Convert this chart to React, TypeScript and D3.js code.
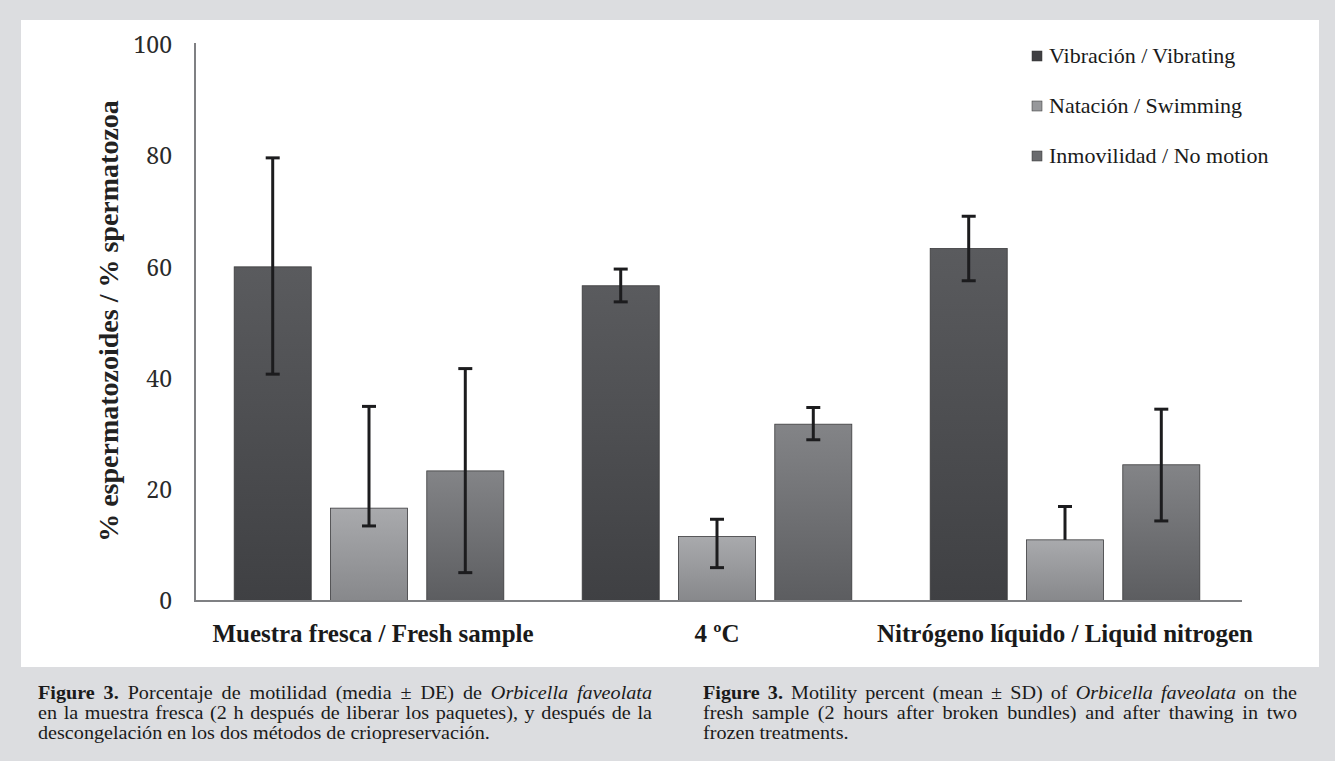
import React, { useLayoutEffect, useRef } from "react";
import * as d3 from "d3";

const categories = ["Muestra fresca / Fresh sample", "4 ºC", "Nitrógeno líquido / Liquid nitrogen"];
const seriesNames = ["Vibración / Vibrating", "Natación / Swimming", "Inmovilidad / No motion"];
const vibracion = [60.1, 56.7, 63.4];
const natacion = [16.7, 11.6, 11.0];
const inmovilidad = [23.4, 31.8, 24.5];
const vibracionLow = [40.8, 53.8, 57.6];
const vibracionHigh = [79.7, 59.7, 69.2];
const natacionLow: (number | null)[] = [13.5, 6.0, null];
const natacionHigh = [35.0, 14.7, 17.0];
const inmovilidadLow = [5.1, 29.0, 14.4];
const inmovilidadHigh = [41.8, 34.8, 34.5];
const yTicks = [0, 20, 40, 60, 80, 100];
const yTitle = "% espermatozoides / % spermatozoa";

const seriesValues = [vibracion, natacion, inmovilidad];
const seriesLow = [vibracionLow, natacionLow, inmovilidadLow];
const seriesHigh = [vibracionHigh, natacionHigh, inmovilidadHigh];
const gradStops = [
  ["#5a5b5e", "#3f4043"],
  ["#a9aaad", "#87888b"],
  ["#838487", "#5c5d60"],
];
const legendColors = ["#404043", "#97989b", "#6a6b6e"];

export default function App() {
  const W = 1335, H = 761;
  const x0 = d3.scaleBand<string>().domain(categories).range([195, 1239]).padding(0);
  const x1 = d3
    .scaleBand<string>()
    .domain(seriesNames)
    .range([0, x0.bandwidth()])
    .paddingInner(0.2)
    .paddingOuter(0.407);
  const y = d3.scaleLinear().domain([0, 100]).range([601, 45]);
  const serif = "'Liberation Serif', 'Times New Roman', serif";
  const capW = 14;

  const SX = 1.12;
  const capRefs = useRef<(SVGTextElement | null)[]>([]);
  const targets = [614, 614, 0, 594, 594, 0];
  useLayoutEffect(() => {
    capRefs.current.forEach((el, i) => {
      if (!el || !targets[i]) return;
      el.setAttribute("word-spacing", "0");
      const w = el.getComputedTextLength();
      const spaces = ((el.textContent || "").match(/ /g) || []).length;
      if (spaces > 0) el.setAttribute("word-spacing", String((targets[i] / SX - w) / spaces));
    });
  }, []);

  const capY = [699, 719, 739];
  const capX = [38, 703];

  const capLines: React.ReactNode[][] = [
    [
      <>
        <tspan fontWeight="bold">Figure 3.</tspan> Porcentaje de motilidad (media ± DE) de{" "}
        <tspan fontStyle="italic">Orbicella faveolata</tspan>
      </>,
      <>en la muestra fresca (2 h después de liberar los paquetes), y después de la</>,
      <>descongelación en los dos métodos de criopreservación.</>,
    ],
    [
      <>
        <tspan fontWeight="bold">Figure 3.</tspan> Motility percent (mean ± SD) of{" "}
        <tspan fontStyle="italic">Orbicella faveolata</tspan> on the
      </>,
      <>fresh sample (2 hours after broken bundles) and after thawing in two</>,
      <>frozen treatments.</>,
    ],
  ];

  return (
    <div style={{ position: "absolute", left: 0, top: 0 }}>
      <svg width={W} height={H} viewBox={`0 0 ${W} ${H}`} style={{ display: "block" }}>
        <defs>
          {gradStops.map((g, i) => (
            <linearGradient key={i} id={`g${i}`} x1="0" y1="0" x2="0" y2="1">
              <stop offset="0%" stopColor={g[0]} />
              <stop offset="100%" stopColor={g[1]} />
            </linearGradient>
          ))}
        </defs>
        <rect x={0} y={0} width={W} height={H} fill="#dcdde0" />
        <rect x={21} y={20} width={1298} height={647} fill="#ffffff" />

        {/* y tick labels */}
        {yTicks.map((t) => (
          <text
            key={t}
            x={172}
            y={y(t)}
            dy="0.36em"
            textAnchor="end"
            fontFamily="'Noto Serif', serif"
            fontSize={23}
            fill="#2a2a2a"
          >
            {t}
          </text>
        ))}

        {/* y title */}
        <text
          transform={`translate(118, ${y(50) - 2}) rotate(-90)`}
          textAnchor="middle"
          fontFamily={serif}
          fontWeight="bold"
          fontSize={28}
          fill="#222"
        >
          {yTitle}
        </text>

        {/* bars */}
        {categories.map((c, ci) => (
          <g key={c} transform={`translate(${x0(c)},0)`}>
            {seriesNames.map((s, si) => {
              const v = seriesValues[si][ci];
              return (
                <rect
                  key={s}
                  x={x1(s)}
                  y={y(v)}
                  width={x1.bandwidth()}
                  height={y(0) - y(v)}
                  fill={`url(#g${si})`}
                  stroke="#3a3a3c"
                  strokeWidth={0.8}
                />
              );
            })}
          </g>
        ))}

        {/* axes */}
        <line x1={195} x2={195} y1={y(100) - 2} y2={y(0)} stroke="#7f8083" strokeWidth={2} />
        <line x1={194} x2={1242} y1={y(0)} y2={y(0)} stroke="#7f8083" strokeWidth={2} />

        {/* error bars */}
        {categories.map((c, ci) => (
          <g key={c} transform={`translate(${x0(c)},0)`}>
            {seriesNames.map((s, si) => {
              const cx = (x1(s) as number) + x1.bandwidth() / 2;
              const v = seriesValues[si][ci];
              const lo = seriesLow[si][ci];
              const hi = seriesHigh[si][ci];
              const yLo = lo == null ? y(v) : y(lo);
              return (
                <g key={s} stroke="#1c1c1e" strokeWidth={3}>
                  <line x1={cx} x2={cx} y1={y(hi)} y2={yLo} />
                  <line x1={cx - capW / 2} x2={cx + capW / 2} y1={y(hi)} y2={y(hi)} />
                  {lo != null && (
                    <line x1={cx - capW / 2} x2={cx + capW / 2} y1={y(lo)} y2={y(lo)} />
                  )}
                </g>
              );
            })}
          </g>
        ))}

        {/* category labels */}
        {categories.map((c, i) => (
          <text
            key={c}
            x={(x0(c) as number) + x0.bandwidth() / 2 + (i === 0 ? 4 : 0)}
            y={642}
            textAnchor="middle"
            fontFamily={serif}
            fontWeight="bold"
            fontSize={25}
            fill="#1a1a1a"
          >
            {c}
          </text>
        ))}

        {/* legend */}
        {seriesNames.map((s, i) => (
          <g key={s} transform={`translate(1032, ${56 + i * 50})`}>
            <rect x={0} y={-5} width={10} height={10} fill={legendColors[i]} stroke="#333" strokeWidth={0.5} />
            <text x={17} y={0} dy="0.34em" fontFamily={serif} fontSize={22} fill="#1a1a1a">
              {s}
            </text>
          </g>
        ))}

        {/* captions */}
        <g fontFamily={serif} fontSize={18} fill="#1a1a1a">
          {capLines.map((col, ci) =>
            col.map((line, li) => (
              <g key={`${ci}-${li}`} transform={`translate(${capX[ci]}, ${capY[li]}) scale(${SX}, 1)`}>
                <text ref={(el) => (capRefs.current[ci * 3 + li] = el)} x={0} y={0}>
                  {line}
                </text>
              </g>
            ))
          )}
        </g>
      </svg>
    </div>
  );
}
